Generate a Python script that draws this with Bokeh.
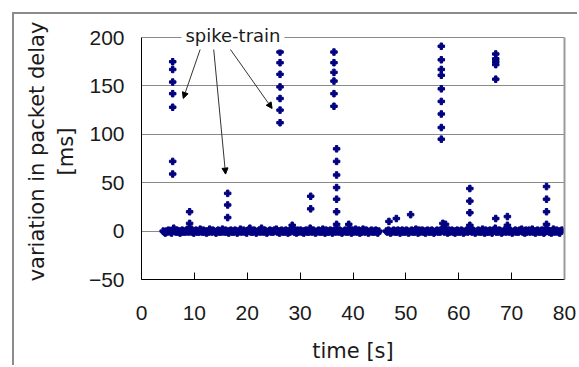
import numpy as np
from bokeh.plotting import figure
from bokeh.models import (Range1d, Label, Arrow, NormalHead, ColumnDataSource,
                          FixedTicker, LinearAxis)
from bokeh.embed import file_html
from bokeh.resources import INLINE

# Regular packets: delay variation [ms] sampled every 0.2 s on two recording segments
seg_a_start, seg_a_step = 4.1, 0.2
seg_a_vals = [
    0, -1, -2, 0, -1, 1, 0, -1, -2, 0, 3, 0, -1, 1, -1, 0, -2, 0, 1, -1,
    0, -1, 1, 0, -1, 4, 1, -1, 0, -2, 0, 1, -1, 0, -1, 2, 0, -1, 1, -1,
    0, -2, 0, -1, 2, 0, -1, 1, 0, -1, -2, 0, 1, -1, 0, -1, 2, 0, -1, 1,
    -1, 0, -2, 0, 1, -1, 0, -1, 1, 0, -2, -1, 0, 2, -1, 0, 1, -1, 0, -2,
    0, 1, 3, -1, 0, -1, 1, 0, -2, -1, 0, 1, -1, 3, 0, -1, 1, 0, -2, -1,
    0, 1, -1, 0, -1, 1, 0, 2, -1, 0, -2, 0, 1, -1, 0, -1, 1, 0, -2, 0,
    -1, 1, 3, 0, -1, 0, -2, 1, -1, 0, 1, -1, 0, -2, 0, 1, -1, 0, -1, 3,
    0, -1, 1, 0, -2, -1, 0, 1, -1, 0, -1, 2, 0, -2, 1, -1, 0, -1, 1, 0,
    -2, 0, 1, -1, 3, 0, -1, 1, 0, -2, -1, 0, 1, -1, 0, -1, 3, 0, -2, 1,
    -1, 0, 2, -1, 0, 1, -2, 0, -1, 2, 0, -1, 1, 0, -2, -1, 0, 1, -1, 0,
    -1, 1, 0, -2, 0,
]
seg_b_start, seg_b_step = 46.3, 0.2
seg_b_vals = [
    0, -1, 1, 0, -2, -1, 0, 1, -1, 0, -1, 1, 0, -2, 0, 1, -1, 0, -1, 1,
    0, -2, -1, 0, 1, -1, 0, -1, 2, 0, -2, 1, -1, 0, 1, -1, 0, -2, 0, 1,
    -1, 0, -1, 1, 0, -2, -1, 0, 1, -1, 0, -1, 1, 3, 0, -1, 3, 0, -2, 1,
    -1, 0, 1, -1, 0, -2, 0, 1, -1, 0, -1, 1, 0, -2, -1, 0, 1, -1, 0, 3,
    0, -1, 1, 0, -2, -1, 0, 1, -1, 0, -1, 2, 0, -2, 1, -1, 0, -1, 1, 0,
    -2, 0, 1, 3, -1, 0, -1, 1, 0, -2, -1, 0, 1, -1, 3, 0, -1, 1, 0, -2,
    -1, 0, 1, -1, 0, -1, 1, 0, 2, -1, 0, -2, 1, -1, 0, 1, -1, 0, 2, -1,
    0, -2, 0, 1, -1, 0, -1, 1, 0, -2, -1, 3, 0, 1, -1, 0, -2, 0, 2, -1,
    0, 1, -1, 0, -2, 0, 1,
]

# Delayed packets (spike trains and isolated outliers): time [s], variation [ms]
spike_t = [
    5.9, 5.9, 5.9, 5.9, 5.9, 5.9, 5.9,
    9.1, 9.1,
    16.3, 16.3, 16.3,
    26.2, 26.2, 26.2, 26.2, 26.2, 26.2, 26.2,
    28.5,
    32.0, 32.0,
    36.4, 36.4, 36.4, 36.4, 36.4, 36.4,
    36.9, 36.9, 36.9, 36.9, 36.9, 36.9, 36.9,
    39.2,
    46.8, 48.2, 50.9,
    56.7, 56.7, 56.7, 56.7, 56.7, 56.7, 56.7, 56.7, 56.7,
    57.0, 57.5,
    62.1, 62.1, 62.1, 62.1,
    67.0, 67.0, 67.0, 67.0, 67.0, 67.0,
    69.2, 69.2,
    76.6, 76.6, 76.6, 76.6,
]
spike_v = [
    175, 167, 154, 142, 128, 72, 59,
    20, 8,
    39, 27, 14,
    185, 174, 162, 149, 137, 125, 112,
    6,
    36, 23,
    185, 174, 164, 155, 142, 129,
    85, 72, 58, 45, 33, 20, 7,
    7,
    10, 13, 17,
    191, 177, 167, 161, 147, 134, 121, 107, 95,
    8, 7,
    44, 31, 19, 6,
    183, 178, 175, 172, 157, 13,
    15, 6,
    46, 33, 20, 7,
]

x_ticks = [0, 10, 20, 30, 40, 50, 60, 70, 80]
y_ticks = [-50, 0, 50, 100, 150, 200]
y_min, y_max = -50, 200

# Annotation: label position and arrow targets (time [s], variation [ms])
note_text = "spike-train"
note_x, note_y = 17.3, 202.5
arrow_start_x = [11.3, 13.6, 16.4]
arrow_start_y = [190.9, 190.9, 190.9]
arrow_end_x = [7.9, 15.9, 24.7]
arrow_end_y = [137.1, 58.9, 126.7]

LABEL_FONT = "DejaVu Sans"
TICK_FONT = "Liberation Sans"
NAVY = "#000080"
TXT = "#1a1a1a"
FRAME_GRAY = "#9a9a9a"

t_a = np.round(seg_a_start + seg_a_step * np.arange(len(seg_a_vals)), 2)
t_b = np.round(seg_b_start + seg_b_step * np.arange(len(seg_b_vals)), 2)

src = ColumnDataSource(data=dict(
    t=list(t_a) + list(t_b) + spike_t,
    v=seg_a_vals + seg_b_vals + spike_v,
))

# a little headroom above 200 so the "spike-train" note can sit on the top edge
p = figure(
    width=565, height=353,
    x_range=Range1d(0, 80), y_range=Range1d(y_min, 214.5),
    output_backend="svg", toolbar_location=None,
    min_border_left=127, min_border_right=15,
    min_border_top=9, min_border_bottom=88,
    margin=(12, 0, 0, 12),
    styles={"border-top": "2px solid #8c8c8c", "border-left": "2px solid #8c8c8c"},
)
p.background_fill_color = "white"
p.border_fill_color = "white"
p.outline_line_color = None

p.scatter("t", "v", source=src, marker="plus", size=6.5,
          fill_color=NAVY, line_color=NAVY, line_width=1)

# axes
p.xaxis.ticker = FixedTicker(ticks=x_ticks)
p.yaxis.ticker = FixedTicker(ticks=y_ticks)
p.yaxis.bounds = (y_min, y_max)
p.xaxis.minor_tick_line_color = None
p.yaxis.minor_tick_line_color = None
p.xaxis.major_tick_in = 7
p.xaxis.major_tick_out = 0
p.yaxis.major_tick_in = 0
p.yaxis.major_tick_out = 0
for ax in (p.xaxis, p.yaxis):
    ax.axis_line_color = "black"
    ax.axis_line_width = 1
    ax.major_tick_line_color = "black"
    ax.major_label_text_font = TICK_FONT
    ax.major_label_text_font_size = "21px"
    ax.major_label_text_color = TXT
    ax.axis_label_text_font = LABEL_FONT
    ax.axis_label_text_font_size = "21px"
    ax.axis_label_text_font_style = "normal"
    ax.axis_label_text_color = TXT
p.xaxis.major_label_standoff = 26
p.yaxis.major_label_standoff = 17
p.xaxis.axis_label = "time [s]"
p.yaxis.axis_label = "variation in packet delay\n[ms]"
p.xaxis.axis_label_standoff = 16
p.yaxis.axis_label_standoff = 8

# right edge of the plot area
right_edge = LinearAxis(
    bounds=(y_min, y_max), ticker=FixedTicker(ticks=[]),
    axis_line_color=FRAME_GRAY, axis_line_width=2,
    major_tick_line_color=None, minor_tick_line_color=None,
    major_label_text_font_size="0px", major_label_standoff=0,
)
p.add_layout(right_edge, "right")

p.xgrid.grid_line_color = None
p.ygrid.grid_line_color = "#8a8a8a"
p.ygrid.grid_line_width = 1

for xs, ys, xe, ye in zip(arrow_start_x, arrow_start_y, arrow_end_x, arrow_end_y):
    p.add_layout(Arrow(
        x_start=xs, y_start=ys, x_end=xe, y_end=ye,
        line_color="#333333", line_width=1,
        end=NormalHead(size=6, fill_color="black", line_color="black"),
    ))

p.add_layout(Label(
    x=note_x, y=note_y, text=note_text,
    text_align="center", text_baseline="middle",
    text_font=LABEL_FONT, text_font_size="18px", text_color=TXT,
    background_fill_color="white", padding=4,
))

open("out.html", "w").write(file_html(p, INLINE))
